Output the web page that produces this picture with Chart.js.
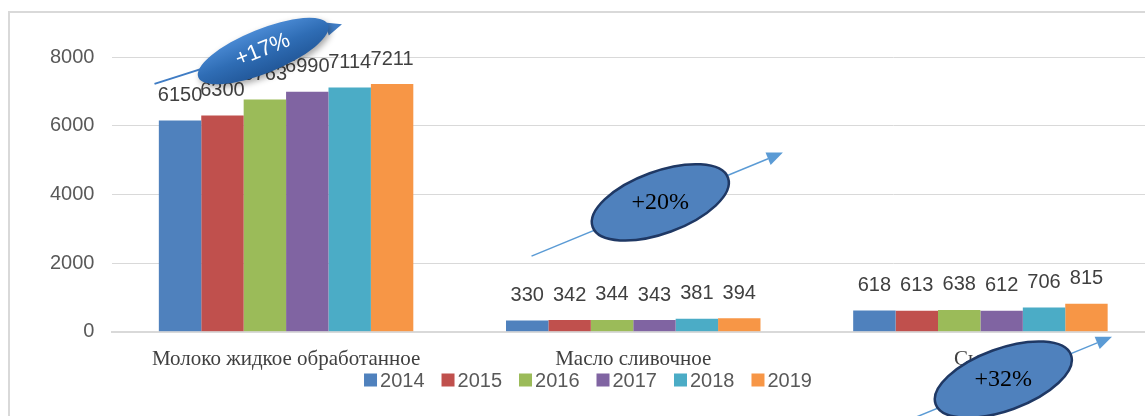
<!DOCTYPE html>
<html>
<head>
<meta charset="utf-8">
<script src="https://cdn.jsdelivr.net/npm/chart.js@4/dist/chart.umd.min.js"></script>
<style>
  html, body { margin: 0; padding: 0; background: #ffffff; overflow: hidden; width: 1145px; height: 416px; }
  #frame { position: absolute; left: 8px; top: 11px; width: 2000px; height: 1000px;
           border-left: 2px solid #d9d9d9; border-top: 2px solid #d9d9d9; }
  #wrap { position: absolute; left: 0; top: 0; width: 1160px; height: 416px; }
</style>
</head>
<body>
<div id="frame"></div>
<div id="wrap"><canvas id="c"></canvas></div>
<script>
// ---- data ----
const categories = ['Молоко жидкое обработанное', 'Масло сливочное', 'Сыры'];
const years = ['2014', '2015', '2016', '2017', '2018', '2019'];
const v2014 = [6150, 330, 618];
const v2015 = [6300, 342, 613];
const v2016 = [6763, 344, 638];
const v2017 = [6990, 343, 612];
const v2018 = [7114, 381, 706];
const v2019 = [7211, 394, 815];
const yTicks = [0, 2000, 4000, 6000, 8000];
const growthLabels = ['+17%', '+20%', '+32%'];

const seriesValues = [v2014, v2015, v2016, v2017, v2018, v2019];
const seriesColors = ['#4F81BD', '#C0504D', '#9BBB59', '#8064A2', '#4BACC6', '#F79646'];

// annotation placement (category-index units on x, axis values on y)
const growthMarks = [
  { label: growthLabels[0], cx: -0.066, cy: 8174, rx: 70, ry: 22, rot: -22, shaded: true,
    a1: [-0.379, 7217], a2: [0.161, 8957] },
  { label: growthLabels[1], cx: 1.078, cy: 3768, rx: 72, ry: 31, rot: -20, shaded: false,
    a1: [0.707, 2203], a2: [1.431, 5217] },
  { label: growthLabels[2], cx: 2.066, cy: -1391, rx: 72, ry: 31, rot: -20, shaded: false,
    a1: [1.770, -2667], a2: [2.379, -145] }
];

const SANS = '"Liberation Sans", Arial, sans-serif';
const SERIF = '"Liberation Serif", "Times New Roman", serif';

const labelPlugin = {
  id: 'valueLabels',
  afterDatasetsDraw(chart) {
    const ctx = chart.ctx;
    ctx.save();
    ctx.font = '20px ' + SANS;
    ctx.fillStyle = '#404040';
    ctx.textAlign = 'center';
    ctx.textBaseline = 'bottom';
    chart.data.datasets.forEach((ds, di) => {
      const meta = chart.getDatasetMeta(di);
      meta.data.forEach((bar, i) => {
        ctx.fillText(String(ds.data[i]), bar.x, bar.y - 15);
      });
    });
    ctx.restore();
  }
};

const legendPlugin = {
  id: 'customLegend',
  afterDraw(chart) {
    const ctx = chart.ctx;
    const box = 13, gapText = 3, gapItem = 17, cy = 380;
    ctx.save();
    ctx.font = '20px ' + SANS;
    const items = chart.data.datasets.map(ds => ({ text: ds.label, color: ds.backgroundColor,
      w: box + gapText + ctx.measureText(ds.label).width }));
    const total = items.reduce((s, it) => s + it.w, 0) + gapItem * (items.length - 1);
    let x = 588 - total / 2;
    ctx.textBaseline = 'middle';
    ctx.textAlign = 'left';
    items.forEach(it => {
      ctx.fillStyle = it.color;
      ctx.fillRect(x, cy - box / 2, box, box);
      ctx.fillStyle = '#595959';
      ctx.fillText(it.text, x + box + gapText, cy + 1);
      x += it.w + gapItem;
    });
    ctx.restore();
  }
};

function drawArrow(ctx, x1, y1, x2, y2, color, width, head) {
  const ang = Math.atan2(y2 - y1, x2 - x1);
  const bx = x2 - head * Math.cos(ang), by = y2 - head * Math.sin(ang);
  ctx.save();
  ctx.strokeStyle = color; ctx.fillStyle = color; ctx.lineWidth = width;
  ctx.beginPath(); ctx.moveTo(x1, y1); ctx.lineTo(bx, by); ctx.stroke();
  ctx.beginPath();
  ctx.moveTo(x2, y2);
  ctx.lineTo(bx + head * 0.42 * Math.sin(ang), by - head * 0.42 * Math.cos(ang));
  ctx.lineTo(bx - head * 0.42 * Math.sin(ang), by + head * 0.42 * Math.cos(ang));
  ctx.closePath(); ctx.fill();
  ctx.restore();
}

const growthPlugin = {
  id: 'growthMarks',
  afterDraw(chart) {
    const ctx = chart.ctx;
    const xs = chart.scales.x, ys = chart.scales.y;
    const x0 = xs.getPixelForValue(0);
    const catW = xs.width / categories.length;
    const px = u => x0 + u * catW;
    const py = v => ys.getPixelForValue(v);
    growthMarks.forEach(m => {
      drawArrow(ctx, px(m.a1[0]), py(m.a1[1]), px(m.a2[0]), py(m.a2[1]),
                m.shaded ? '#3F7CC4' : '#5B9BD5', m.shaded ? 2 : 1.5, 16);
      const cx = px(m.cx), cy = py(m.cy);
      ctx.save();
      ctx.translate(cx, cy);
      ctx.rotate(m.rot * Math.PI / 180);
      ctx.beginPath();
      ctx.ellipse(0, 0, m.rx, m.ry, 0, 0, Math.PI * 2);
      if (m.shaded) {
        const g = ctx.createLinearGradient(0, -m.ry, 0, m.ry);
        g.addColorStop(0, '#4A8AD4');
        g.addColorStop(0.5, '#2F6DB5');
        g.addColorStop(1, '#22589A');
        ctx.shadowColor = 'rgba(0,0,0,0.35)';
        ctx.shadowBlur = 6; ctx.shadowOffsetX = 2; ctx.shadowOffsetY = 3;
        ctx.fillStyle = g; ctx.fill();
        ctx.shadowColor = 'transparent';
        ctx.fillStyle = '#ffffff';
        ctx.font = '22px ' + SANS;
        ctx.textAlign = 'center'; ctx.textBaseline = 'middle';
        ctx.fillText(m.label, 0, -1);
        ctx.restore();
      } else {
        ctx.fillStyle = '#4F81BD'; ctx.fill();
        ctx.lineWidth = 2.5; ctx.strokeStyle = '#1F3864'; ctx.stroke();
        ctx.restore();
        ctx.save();
        ctx.fillStyle = '#000000';
        ctx.font = '24px ' + SERIF;
        ctx.textAlign = 'center'; ctx.textBaseline = 'middle';
        ctx.fillText(m.label, cx, cy);
        ctx.restore();
      }
    });
  }
};

new Chart(document.getElementById('c'), {
  type: 'bar',
  data: {
    labels: categories,
    datasets: years.map((y, i) => ({
      label: y,
      data: seriesValues[i],
      backgroundColor: seriesColors[i],
      borderWidth: 0,
      categoryPercentage: 0.733,
      barPercentage: 1.0
    }))
  },
  options: {
    responsive: true,
    maintainAspectRatio: false,
    animation: false,
    layout: { padding: { left: 32, right: 6, top: 57, bottom: 29 } },
    plugins: {
      tooltip: { enabled: false },
      legend: { display: false }
    },
    scales: {
      x: {
        grid: { display: false, drawTicks: false },
        border: { display: true, color: '#d9d9d9', width: 2 },
        ticks: {
          color: '#404040', padding: 15, maxRotation: 0, autoSkip: false,
          font: { family: SERIF, size: 21 }
        }
      },
      y: {
        min: 0, max: 8000,
        afterBuildTicks: axis => { axis.ticks = yTicks.map(v => ({ value: v })); },
        grid: { color: '#d9d9d9', lineWidth: 1, drawTicks: false },
        border: { display: false },
        ticks: {
          color: '#595959', padding: 18,
          callback: v => String(v),
          font: { family: SANS, size: 20 }
        }
      }
    }
  },
  plugins: [labelPlugin, legendPlugin, growthPlugin]
});
</script>
</body>
</html>
